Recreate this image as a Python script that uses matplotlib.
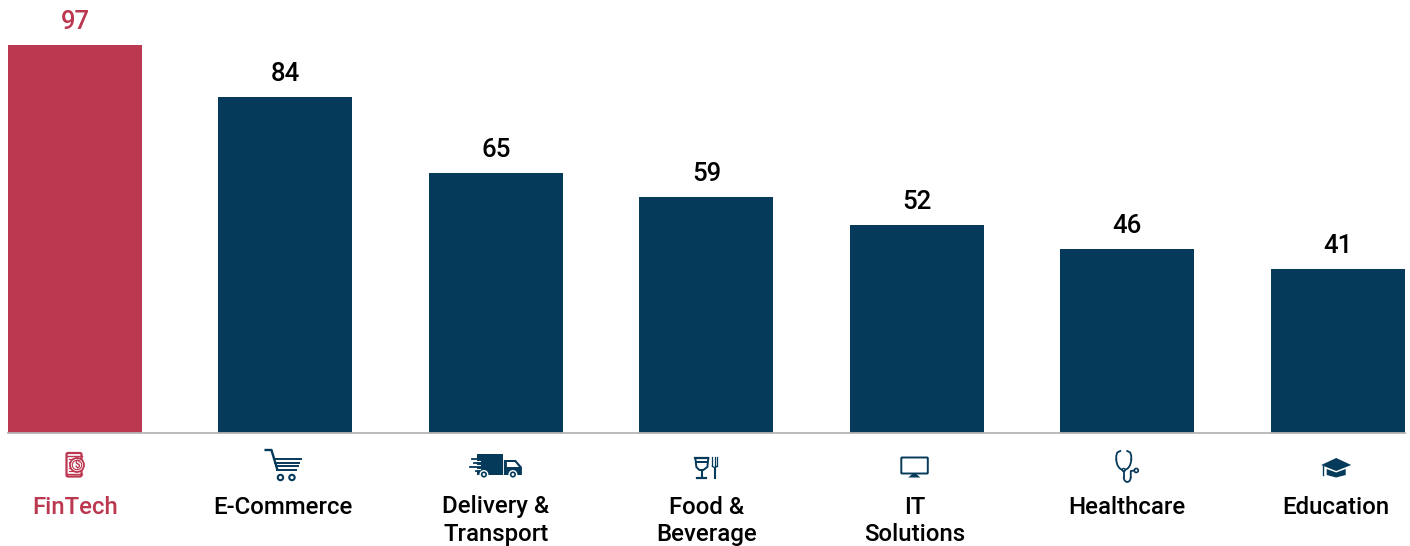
import matplotlib
matplotlib.use('Agg')
import matplotlib.pyplot as plt
from matplotlib.patches import Rectangle, Circle, FancyBboxPatch, Polygon, Arc

categories = ['FinTech', 'E-Commerce', 'Delivery &\nTransport', 'Food &\nBeverage',
              'IT\nSolutions', 'Healthcare', 'Education']
values = [97, 84, 65, 59, 52, 46, 41]

RED = '#bc3750'
NAVY = '#063a5a'
W, H = 1410, 546
BASE = 433             # baseline, px from top
STEP = 210.45          # px between bars
FIRST = 75             # centre of first bar, px
UNIT = 3.997           # px per value unit

plt.rcParams['font.family'] = ['Roboto', 'DejaVu Sans']

fig = plt.figure(figsize=(W/100, H/100), dpi=100)
ax = fig.add_axes([0, 0, 1, 1])
ax.set_xlim(-FIRST/STEP, (W-FIRST)/STEP)
ax.set_ylim(-(H-BASE)/UNIT, BASE/UNIT)
ax.axis('off')

colors = [RED] + [NAVY]*(len(values)-1)
ax.bar(range(len(values)), values, width=134/STEP, color=colors, linewidth=0, zorder=2)
ax.plot([-(FIRST-8)/STEP, (1405-FIRST)/STEP], [0, 0], color='#b5b5b5', lw=1.3, zorder=3)

label_shift = [0, -3, 0, 0, -2, 0, -2]
for i, (v, c) in enumerate(zip(values, colors)):
    ax.annotate(str(v), (i, v), xytext=(0, 11), textcoords='offset pixels', ha='center', va='bottom',
                fontsize=18.5, fontweight='medium', color=c if i == 0 else '#000000')
    ax.annotate(categories[i], (i, 0), xytext=(label_shift[i], -62.5), textcoords='offset pixels',
                ha='center', va='top', fontsize=17.3, fontweight='medium',
                color=c if i == 0 else '#000000', linespacing=1.27)

# small icons, drawn in pixels around each bar centre
ic = fig.add_axes([0, 0, 1, 1], facecolor='none')
ic.set_xlim(0, W)
ic.set_ylim(H, 0)
ic.axis('off')


def cx(i):
    return FIRST + STEP*i


def icon_fintech(x):
    ic.add_patch(FancyBboxPatch((x-8.5, 453), 15, 23.5, boxstyle='round,pad=0,rounding_size=1.5', fc='white', ec=RED, lw=1.6))
    ic.plot([x-8.5, x+6.5], [456, 456], color=RED, lw=1)
    ic.plot([x-8.5, x+6.5], [474, 474], color=RED, lw=1)
    for yy, x1 in ((459, -1), (462, -3), (468, -4), (471, -2)):
        ic.plot([x-6.5, x+x1], [yy, yy], color=RED, lw=0.8)
    ic.add_patch(Circle((x+2, 465), 7, fc='white', ec=RED, lw=1.3, zorder=3))
    ic.add_patch(Circle((x+2, 465), 4.7, fc='white', ec=RED, lw=0.8, zorder=3))
    ic.text(x+2, 465, '$', color=RED, fontsize=7, fontweight='bold', ha='center', va='center', zorder=4)


def icon_cart(x):
    ic.plot([x-21, x-14, x-8], [450, 450, 470], color=NAVY, lw=1.7, solid_capstyle='butt')
    for yy, x0, x1 in ((458.5, -11, 15.5), (462.5, -10, 14), (466, -9, 13), (470, -8, 11)):
        ic.plot([x+x0, x+x1], [yy, yy], color=NAVY, lw=1.4)
    for dx in (-5, 6.5):
        ic.add_patch(Circle((x+dx, 477.5), 2.7, fc='white', ec=NAVY, lw=1.5))


def icon_truck(x):
    ic.add_patch(Rectangle((x-19, 454), 26, 21, fc=NAVY, lw=0))
    ic.add_patch(Polygon([(x+8, 460), (x+20, 460), (x+26, 467), (x+26, 475), (x+8, 475)], fc=NAVY, lw=0))
    ic.add_patch(Polygon([(x+11, 462), (x+19, 462), (x+23, 467), (x+11, 467)], fc='white', lw=0))
    for yy, x0 in ((459, -24), (463, -22), (467, -26), (471, -20)):
        ic.plot([x+x0, x-18], [yy, yy], color=NAVY, lw=1.3)
    for yy in (461, 465, 469):
        ic.plot([x-19, x-16], [yy, yy], color='white', lw=0.8)
    for dx in (-12, 17):
        ic.add_patch(Circle((x+dx, 474.5), 3.8, fc=NAVY, ec='white', lw=1, zorder=3))
        ic.add_patch(Circle((x+dx, 474.5), 1.4, fc='white', lw=0, zorder=4))


def icon_food(x):
    ic.plot([x-11, x-10, x-7, x-3, x+1, x+2], [458, 467, 470, 470, 467, 458], color=NAVY, lw=1.4)
    ic.plot([x-11, x+2], [458, 458], color=NAVY, lw=1.6)
    ic.add_patch(Polygon([(x-10.5, 461), (x+1.5, 461), (x+1.4, 463), (x-10.4, 463)], fc=NAVY, lw=0))
    ic.plot([x-4.5, x-4.5], [470, 477], color=NAVY, lw=1.5)
    ic.plot([x-9, x], [477.5, 477.5], color=NAVY, lw=1.6)
    for dx in (6, 8.5, 11):
        ic.plot([x+dx, x+dx], [457, 466], color=NAVY, lw=0.9)
    ic.plot([x+6, x+8.5, x+11], [466, 468, 466], color=NAVY, lw=0.9)
    ic.plot([x+8.5, x+8.5], [468, 478], color=NAVY, lw=1.5)


def icon_monitor(x):
    ic.add_patch(FancyBboxPatch((x-15.5, 457.5), 26.5, 16, boxstyle='round,pad=0,rounding_size=0.8', fc='white', ec=NAVY, lw=1.4))
    ic.add_patch(Polygon([(x-4.5, 474), (x-0.5, 474), (x+3.5, 477.5), (x-8.5, 477.5)], fc=NAVY, lw=0))


def icon_stetho(x):
    ic.add_patch(Arc((x-3.5, 459), 15, 22, theta1=0, theta2=180, color=NAVY, lw=1.3))
    ic.plot([x-7, x-10, x-11, x-11], [451, 452.5, 456, 459], color=NAVY, lw=1.3)
    ic.plot([x, x+3, x+4, x+4], [451, 452.5, 456, 459], color=NAVY, lw=1.3)
    ic.add_patch(Circle((x-3.5, 470), 1.5, fc='white', ec=NAVY, lw=1))
    ic.plot([x-3.5, x-3.5], [471, 477], color=NAVY, lw=1.3)
    ic.add_patch(Arc((x, 477), 7, 10, theta1=0, theta2=180, color=NAVY, lw=1.3))
    ic.plot([x+3.5, x+3.5, x+7], [477, 471, 470.5], color=NAVY, lw=1.3)
    ic.add_patch(Circle((x+9, 470.5), 2, fc='white', ec=NAVY, lw=1.2))


def icon_cap(x):
    ic.add_patch(Polygon([(x-16.5, 465), (x-1.5, 458), (x+13.5, 465), (x-1.5, 471)], fc=NAVY, lw=0))
    ic.add_patch(Polygon([(x-11, 469), (x-1.5, 472.5), (x+8, 469), (x+8, 475), (x-1.5, 477.5), (x-11, 475)], fc=NAVY, lw=0))
    ic.plot([x-14.5, x-14.5], [466, 475], color=NAVY, lw=1)


for i, draw in enumerate([icon_fintech, icon_cart, icon_truck, icon_food, icon_monitor, icon_stetho, icon_cap]):
    draw(cx(i))

fig.savefig('out.png', dpi=100)
